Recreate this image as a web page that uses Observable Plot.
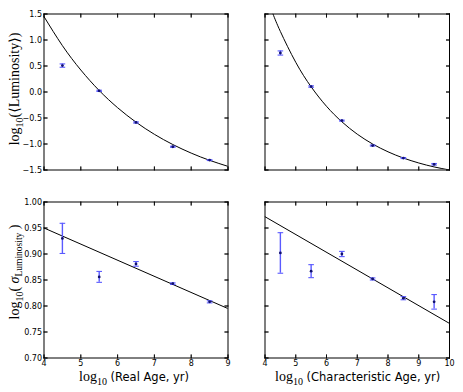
<!DOCTYPE html>
<html><head><meta charset="utf-8">
<script src="https://cdn.jsdelivr.net/npm/d3@7"></script>
<script src="https://cdn.jsdelivr.net/npm/@observablehq/plot@0.6"></script>
<style>
html,body{margin:0;padding:0;background:#fff;}
#wrap{position:relative;width:463px;height:392px;overflow:hidden;background:#fff;}
#wrap svg{position:absolute;}
</style></head><body><div id="wrap"></div>
<script>
// ---- data ----
const realAge = [4.5, 5.5, 6.5, 7.5, 8.5];
const charAge = [4.5, 5.5, 6.5, 7.5, 8.5, 9.5];
const lumReal = [0.508, 0.022, -0.586, -1.053, -1.31];
const lumRealErr = [0.032, 0.012, 0.012, 0.01, 0.008];
const lumChar = [0.75, 0.105, -0.55, -1.03, -1.27, -1.39];
const lumCharErr = [0.04, 0.014, 0.01, 0.01, 0.01, 0.015];
const sigReal = [0.930, 0.856, 0.881, 0.843, 0.808];
const sigRealErr = [0.029, 0.0105, 0.0045, 0.0015, 0.002];
const sigChar = [0.902, 0.867, 0.900, 0.852, 0.815, 0.808];
const sigCharErr = [0.039, 0.0125, 0.005, 0.002, 0.003, 0.014];

// fitted curves
const fitLumRealX = [4, 4.5, 5, 5.5, 6, 6.5, 7, 7.5, 8, 8.5, 9];
const fitLumRealY = [1.45, 0.892, 0.423, 0.028, -0.302, -0.58, -0.814, -1.01, -1.175, -1.314, -1.43];
const fitLumCharX = [4.26, 4.5, 5, 5.5, 6, 6.5, 7, 7.5, 8, 8.5, 9, 9.5, 10];
const fitLumCharY = [1.5, 1.164, 0.571, 0.10, -0.275, -0.573, -0.811, -1.0, -1.15, -1.27, -1.365, -1.441, -1.5];
const fitSigRealX = [4, 9];
const fitSigRealY = [0.95, 0.795];
const fitSigCharX = [4, 10];
const fitSigCharY = [0.9717, 0.7665];

const realTicks = [4, 5, 6, 7, 8, 9];
const charTicks = [4, 5, 6, 7, 8, 9, 10];
const lumTicks = [-1.5, -1.0, -0.5, 0.0, 0.5, 1.0, 1.5];
const sigTicks = [0.70, 0.75, 0.80, 0.85, 0.90, 0.95, 1.00];

// ---- drawing ----
const wrap = document.getElementById("wrap");
const errColor = "#5a5aff";
const ptColor = "#10106e";
const cap = {draw(ctx, size) { const w = Math.sqrt(size / Math.PI); ctx.moveTo(-w, 0); ctx.lineTo(w, 0); }};

function panel(o) {
  const pts = o.xs.map((x, i) => ({x, y: o.ys[i], lo: o.ys[i] - o.errs[i], hi: o.ys[i] + o.errs[i]}));
  const fit = o.fitX.map((x, i) => ({x, y: o.fitY[i]}));
  const tick = (anchor, rotate, vals, ch) => Plot.vector(vals, {
    [ch]: d => d, frameAnchor: anchor, rotate, length: 3.5, shape: "spike", r: 0,
    anchor: "start", stroke: "black", strokeWidth: 0.8, fill: "none"
  });
  const marks = [
    Plot.line(fit, {x: "x", y: "y", curve: o.curve, stroke: "black", strokeWidth: 1, clip: true}),
    Plot.ruleX(pts, {x: "x", y1: "lo", y2: "hi", stroke: errColor, strokeWidth: 1.4}),
    Plot.dot(pts, {x: "x", y: "lo", symbol: cap, r: 2.8, stroke: errColor, strokeWidth: 1.1, fill: "none"}),
    Plot.dot(pts, {x: "x", y: "hi", symbol: cap, r: 2.8, stroke: errColor, strokeWidth: 1.1, fill: "none"}),
    Plot.dot(pts, {x: "x", y: "y", r: 1.4, fill: ptColor, stroke: null}),
    Plot.frame({stroke: "black", strokeWidth: 1}),
    tick("bottom", 0, o.xTicks, "x"),
    tick("top", 180, o.xTicks, "x"),
    tick("left", 90, o.yTicks, "y"),
    tick("right", -90, o.yTicks, "y")
  ];
  if (o.showX) marks.push(Plot.axisX({ticks: o.xTicks, tickSize: 0, tickPadding: 2, tickFormat: d => String(d), label: null}));
  if (o.showY) marks.push(Plot.axisY({ticks: o.yTicks, tickSize: 0, tickPadding: 2, tickFormat: o.yFmt, label: null}));
  const svg = Plot.plot({
    width: o.width, height: o.height,
    marginLeft: o.mL, marginRight: o.mR, marginTop: o.mT, marginBottom: o.mB,
    x: {domain: o.xDomain, axis: o.showX ? undefined : null},
    y: {domain: o.yDomain, axis: o.showY ? undefined : null},
    style: {fontFamily: "DejaVu Sans", fontSize: "8px", background: "transparent", color: "black"},
    marks
  });
  svg.style.left = o.left + "px";
  svg.style.top = o.top + "px";
  wrap.appendChild(svg);
}

const fmt1 = d => d.toFixed(1).replace("-", "\u2212");
const fmt2 = d => d.toFixed(2);

panel({left: 0, top: 0, width: 232, height: 190, mL: 43.5, mR: 4.5, mT: 13.5, mB: 20.5,
  xDomain: [4, 9], yDomain: [-1.5, 1.5], xTicks: realTicks, yTicks: lumTicks,
  xs: realAge, ys: lumReal, errs: lumRealErr, fitX: fitLumRealX, fitY: fitLumRealY, curve: "natural",
  showX: false, showY: true, yFmt: fmt1});
panel({left: 232, top: 0, width: 231, height: 190, mL: 32.5, mR: 14, mT: 13.5, mB: 20.5,
  xDomain: [4, 10], yDomain: [-1.5, 1.5], xTicks: charTicks, yTicks: lumTicks,
  xs: charAge, ys: lumChar, errs: lumCharErr, fitX: fitLumCharX, fitY: fitLumCharY, curve: "natural",
  showX: false, showY: false});
panel({left: 0, top: 190, width: 232, height: 202, mL: 43.5, mR: 4.5, mT: 11.5, mB: 34.5,
  xDomain: [4, 9], yDomain: [0.70, 1.00], xTicks: realTicks, yTicks: sigTicks,
  xs: realAge, ys: sigReal, errs: sigRealErr, fitX: fitSigRealX, fitY: fitSigRealY, curve: "linear",
  showX: true, showY: true, yFmt: fmt2});
panel({left: 232, top: 190, width: 231, height: 202, mL: 32.5, mR: 14, mT: 11.5, mB: 34.5,
  xDomain: [4, 10], yDomain: [0.70, 1.00], xTicks: charTicks, yTicks: sigTicks,
  xs: charAge, ys: sigChar, errs: sigCharErr, fitX: fitSigCharX, fitY: fitSigCharY, curve: "linear",
  showX: true, showY: false});

// ---- axis titles (overlay) ----
const ov = d3.select(wrap).append("svg")
  .attr("width", 463).attr("height", 392)
  .style("left", "0px").style("top", "0px").style("pointer-events", "none");
const serif = "Liberation Serif, DejaVu Serif, serif";
const sans = "DejaVu Sans, sans-serif";

function yLabel(cx, cy, build) {
  const t = ov.append("text")
    .attr("transform", `translate(${cx},${cy}) rotate(-90)`)
    .attr("text-anchor", "middle").attr("font-family", serif).attr("font-size", 14).attr("fill", "black");
  build(t);
}
yLabel(19, 89, t => {
  t.append("tspan").text("log");
  t.append("tspan").attr("font-size", 10).attr("dy", 3.5).text("10");
  t.append("tspan").attr("dy", -3.5).text("(\u27E8Luminosity\u27E9)");
});
yLabel(19, 272, t => {
  t.append("tspan").text("log");
  t.append("tspan").attr("font-size", 10).attr("dy", 3.5).text("10");
  t.append("tspan").attr("dy", -3.5).text("( ");
  t.append("tspan").attr("font-style", "italic").text("\u03C3");
  t.append("tspan").attr("font-size", 9.5).attr("dy", 3).text("Luminosity");
  t.append("tspan").attr("dy", -3).text(" )");
});
function xLabel(x, y, rest) {
  const t = ov.append("text").attr("x", x).attr("y", y).attr("fill", "black");
  t.append("tspan").attr("font-family", serif).attr("font-size", 14).text("log");
  t.append("tspan").attr("font-family", serif).attr("font-size", 10).attr("dy", 3.5).text("10");
  t.append("tspan").attr("font-family", sans).attr("font-size", 11.5).attr("dy", -3.5).text(" " + rest);
}
xLabel(79, 381, "(Real Age, yr)");
xLabel(275, 381, "(Characteristic Age, yr)");
</script>
</body></html>
